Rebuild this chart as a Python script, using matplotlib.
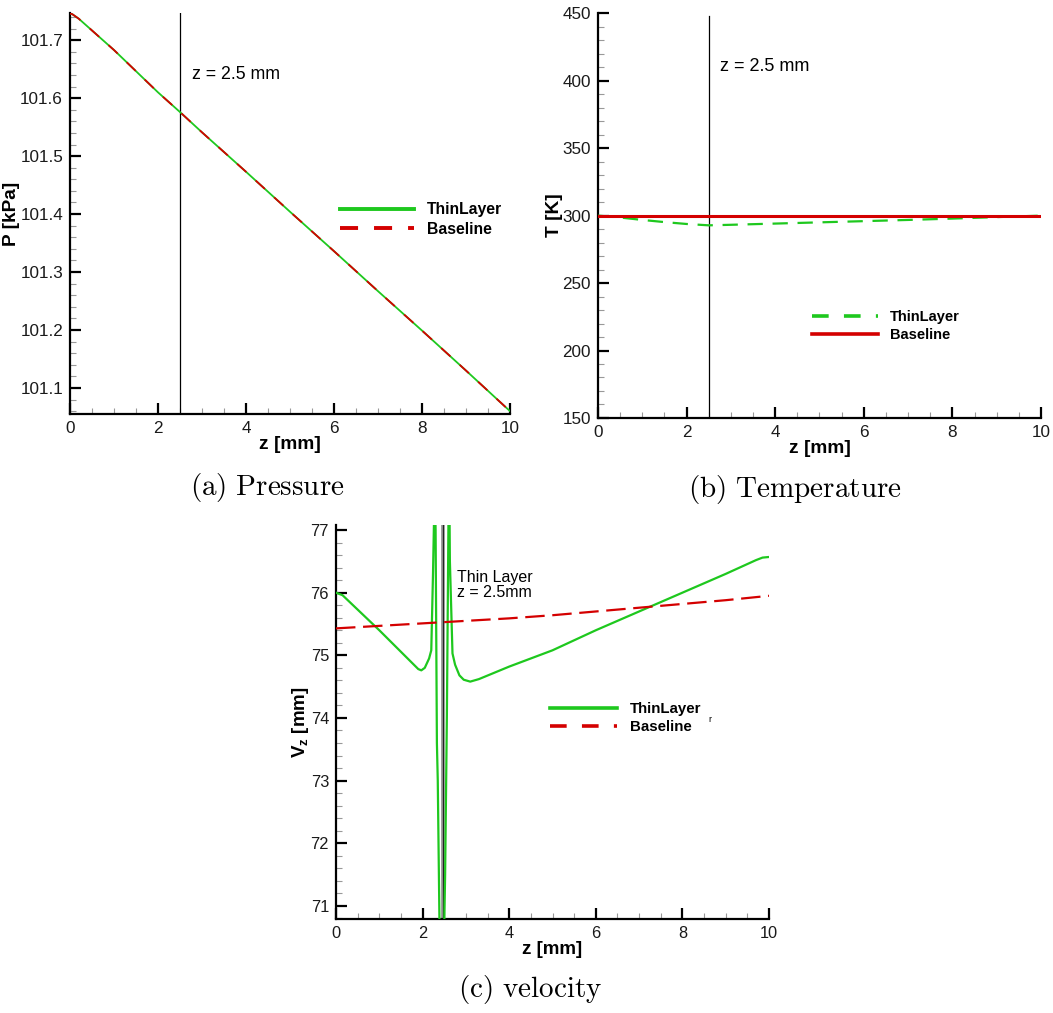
import numpy as np
import matplotlib
matplotlib.use("Agg")
import matplotlib.pyplot as plt
from matplotlib.ticker import MultipleLocator
from matplotlib.lines import Line2D

plt.rcParams['font.family'] = ['Liberation Sans', 'DejaVu Sans']
plt.rcParams['mathtext.fontset'] = 'custom'
plt.rcParams['mathtext.rm'] = 'Liberation Sans'
plt.rcParams['mathtext.bf'] = 'Liberation Sans:bold'
plt.rcParams['mathtext.it'] = 'Liberation Sans:italic'
plt.rcParams['lines.scale_dashes'] = False

GREEN = '#1ec81e'
RED = '#d40000'

# (a) pressure along z
z_p = [0.0, 0.05, 0.2, 1.0, 2.0, 2.5, 3.0, 4.0, 5.0, 6.0, 7.0, 8.0, 9.0, 10.0]
p_thin = [101.746, 101.745, 101.737, 101.683, 101.610, 101.576, 101.541,
          101.473, 101.404, 101.336, 101.267, 101.199, 101.130, 101.060]
p_base = [101.746, 101.745, 101.737, 101.683, 101.610, 101.576, 101.541,
          101.473, 101.404, 101.336, 101.267, 101.199, 101.130, 101.060]

# (b) temperature along z
z_t = [0.0, 0.5, 1.0, 1.5, 2.0, 2.5, 3.0, 4.0, 5.0, 6.0, 7.0, 8.0, 9.0, 10.0]
t_thin = [300.0, 298.6, 296.8, 295.2, 293.8, 292.8, 293.2, 294.1, 295.0,
          295.9, 296.8, 297.8, 298.9, 300.0]
t_base = [300.0, 300.0, 300.0, 300.0, 300.0, 300.0, 300.0, 300.0, 300.0,
          300.0, 300.0, 300.0, 300.0, 300.0]

# (c) axial velocity along z
z_v_thin = [0.0, 0.15, 1.0, 1.9, 1.97, 2.05, 2.15, 2.2, 2.24, 2.27, 2.29,
            2.30, 2.33, 2.35, 2.39, 2.42, 2.49, 2.52, 2.56, 2.60, 2.62,
            2.63, 2.69, 2.75, 2.85, 2.95, 3.1, 3.3, 4.0, 5.0, 6.0, 7.0,
            8.0, 9.0, 9.7, 9.85, 10.0]
v_thin = [76.0, 75.96, 75.40, 74.78, 74.76, 74.80, 74.95, 75.08, 76.3, 77.4,
          77.4, 77.0, 73.6, 73.0, 70.7, 70.3, 70.3, 71.5, 74.0, 77.4, 77.4,
          76.5, 75.03, 74.85, 74.68, 74.61, 74.58, 74.62, 74.82, 75.08,
          75.40, 75.70, 76.0, 76.3, 76.52, 76.56, 76.57]
z_v_base = [0.0, 1.5, 2.5, 4.0, 5.0, 6.0, 7.5, 9.0, 10.0]
v_base = [75.43, 75.49, 75.53, 75.59, 75.64, 75.70, 75.79, 75.88, 75.95]

fig = plt.figure(figsize=(10.53, 10.13), dpi=100)


def style_axes(ax, ymajor, yminor, tsize):
    for s in ['top', 'right']:
        ax.spines[s].set_visible(False)
    for s in ['left', 'bottom']:
        ax.spines[s].set_linewidth(1.6)
    ax.set_xlim(0, 10)
    ax.xaxis.set_major_locator(MultipleLocator(2))
    ax.xaxis.set_minor_locator(MultipleLocator(0.5))
    ax.yaxis.set_major_locator(MultipleLocator(ymajor))
    ax.yaxis.set_minor_locator(MultipleLocator(yminor))
    ax.tick_params(which='major', direction='in', length=8, width=1.6,
                   labelsize=tsize, pad=5, labelcolor='#1a1a1a')
    ax.tick_params(which='minor', direction='in', length=4.5, width=0.8,
                   color='#999999')
    ax.tick_params(top=False, right=False, which='both')


# ---------- (a) Pressure ----------
ax1 = fig.add_axes([0.0665, 0.5913, 0.4178, 0.3959])
ax1.plot(z_p, p_thin, color=GREEN, lw=1.3, zorder=3)
ax1.plot(z_p, p_base, color=RED, lw=1.3, dashes=(9, 9), zorder=4)
ax1.axvline(2.5, color='black', lw=0.9, zorder=2)
ax1.set_ylim(101.055, 101.747)
style_axes(ax1, 0.1, 0.02, 12.3)
ax1.set_xlabel('z [mm]', fontsize=13.8, fontweight='bold', labelpad=0)
ax1.set_ylabel('P [kPa]', fontsize=13.8, fontweight='bold', labelpad=0)
ax1.text(2.77, 101.641, 'z = 2.5 mm', fontsize=12.8, va='center', ha='left')
h1 = [Line2D([], [], color=GREEN, lw=2.8),
      Line2D([], [], color=RED, lw=2.8, dashes=(13, 11.5))]
ax1.legend(h1, ['ThinLayer', 'Baseline'], loc='upper left',
           bbox_to_anchor=(340 / 1053, 1 - 202 / 1013),
           bbox_transform=fig.transFigure, frameon=False, borderpad=0,
           borderaxespad=0, handlelength=4.7, handletextpad=0.85,
           labelspacing=0.3, prop={'weight': 'bold', 'size': 11.3})

# ---------- (b) Temperature ----------
ax2 = fig.add_axes([0.5679, 0.5874, 0.4207, 0.3995])
ax2.plot(z_t, t_thin, color=GREEN, lw=1.6, dashes=(11, 7), zorder=3)
ax2.plot(z_t, t_base, color=RED, lw=2.2, zorder=4)
ax2.plot([2.5, 2.5], [150, 448], color='black', lw=0.9, zorder=2)
ax2.set_ylim(150, 450)
style_axes(ax2, 50, 10, 12.3)
ax2.set_xlabel('z [mm]', fontsize=13.8, fontweight='bold', labelpad=0)
ax2.set_ylabel('T [K]', fontsize=13.8, fontweight='bold', labelpad=0)
ax2.text(2.75, 410.2, 'z = 2.5 mm', fontsize=13, va='center', ha='left')
h2 = [Line2D([], [], color=GREEN, lw=2.6, dashes=(12, 11)),
      Line2D([], [], color=RED, lw=2.6)]
ax2.legend(h2, ['ThinLayer', 'Baseline'], loc='upper left',
           bbox_to_anchor=(812 / 1053, 1 - 310 / 1013),
           bbox_transform=fig.transFigure, frameon=False, borderpad=0,
           borderaxespad=0, handlelength=4.5, handletextpad=0.86,
           labelspacing=0.25, prop={'weight': 'bold', 'size': 10.5})

# ---------- (c) Velocity ----------
ax3 = fig.add_axes([0.3191, 0.0928, 0.4112, 0.3889])
ax3.plot(z_v_thin, v_thin, color=GREEN, lw=1.6, zorder=3)
ax3.plot(z_v_base, v_base, color=RED, lw=1.6, dashes=(14, 5.5), zorder=4)
ax3.axvline(2.46, color='#8a8a8a', lw=2.6, zorder=2)
ax3.axvline(2.46, color='#202020', lw=0.7, zorder=2)
ax3.set_ylim(70.79, 77.08)
style_axes(ax3, 1, 0.2, 11.8)
ax3.set_xlabel('z [mm]', fontsize=13.5, fontweight='bold', labelpad=0)
ax3.set_ylabel(r'$\mathbf{V_z}$ [mm]', fontsize=13.5, fontweight='bold',
               labelpad=0)
ax3.text(2.79, 76.12, 'Thin Layer\nz = 2.5mm', fontsize=11.5, va='center',
         ha='left', linespacing=1.0)
h3 = [Line2D([], [], color=GREEN, lw=2.6),
      Line2D([], [], color=RED, lw=2.6, dashes=(12, 11))]
ax3.legend(h3, ['ThinLayer', 'Baseline'], loc='upper left',
           bbox_to_anchor=(550 / 1053, 1 - 702 / 1013),
           bbox_transform=fig.transFigure, frameon=False, borderpad=0,
           borderaxespad=0, handlelength=4.5, handletextpad=0.85,
           labelspacing=0.28, prop={'weight': 'bold', 'size': 10.8})
fig.text(710 / 1053, 1 - 720 / 1013, 'r', fontsize=6.5, ha='center',
         va='center')

# captions
fig.text(267 / 1053, 1 - 488 / 1013, r'$\mathrm{(a)\ Pressure}$',
         fontsize=21, ha='center', va='center', math_fontfamily='cm')
fig.text(795 / 1053, 1 - 489 / 1013, r'$\mathrm{(b)\ Temperature}$',
         fontsize=21, ha='center', va='center', math_fontfamily='cm')
fig.text(530 / 1053, 1 - 989 / 1013, r'$\mathrm{(c)\ velocity}$',
         fontsize=21, ha='center', va='center', math_fontfamily='cm')

fig.savefig('out.png', dpi=100)
